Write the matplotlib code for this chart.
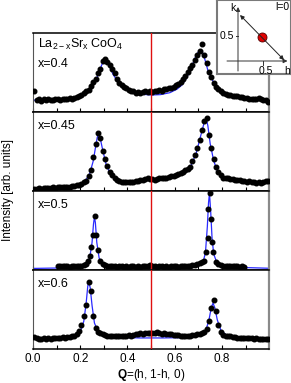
import matplotlib
matplotlib.use("Agg")
import matplotlib.pyplot as plt

plt.rcParams['font.family'] = ['Liberation Sans', 'DejaVu Sans']
plt.rcParams['mathtext.fontset'] = 'custom'
plt.rcParams['mathtext.rm'] = 'Liberation Sans'
plt.rcParams['mathtext.bf'] = 'Liberation Sans:bold'

# scan positions (h) shared by x=0.4, 0.45, 0.6
h_scan = [0.005, 0.015, 0.025, 0.035, 0.045, 0.055, 0.065, 0.075, 0.085, 0.095,
          0.105, 0.115, 0.125, 0.135, 0.145, 0.155, 0.165, 0.175, 0.185, 0.195,
          0.205, 0.215, 0.225, 0.235, 0.245, 0.255, 0.265, 0.275, 0.285, 0.295,
          0.305, 0.315, 0.325, 0.335, 0.345, 0.355, 0.365, 0.375, 0.385, 0.395,
          0.405, 0.415, 0.425, 0.435, 0.445, 0.455, 0.465, 0.475, 0.485, 0.495,
          0.505, 0.515, 0.525, 0.535, 0.545, 0.555, 0.565, 0.575, 0.585, 0.595,
          0.605, 0.615, 0.625, 0.635, 0.645, 0.655, 0.665, 0.675, 0.685, 0.695,
          0.705, 0.715, 0.725, 0.735, 0.745, 0.755, 0.765, 0.775, 0.785, 0.795,
          0.805, 0.815, 0.825, 0.835, 0.845, 0.855, 0.865, 0.875, 0.885, 0.895,
          0.905, 0.915, 0.925, 0.935, 0.945, 0.955, 0.965, 0.975, 0.985, 0.995]

int_x04 = [0.26, 0.15, 0.16, 0.145, 0.16, 0.15, 0.165, 0.155, 0.15, 0.16,
           0.165, 0.155, 0.16, 0.17, 0.165, 0.175, 0.17, 0.18, 0.19, 0.2,
           0.22, 0.24, 0.26, 0.28, 0.33, 0.38, 0.42, 0.49, 0.55, 0.64,
           0.67, 0.63, 0.6, 0.55, 0.49, 0.42, 0.37, 0.34, 0.32, 0.3,
           0.28, 0.27, 0.26, 0.245, 0.25, 0.245, 0.255, 0.26, 0.25, 0.26,
           0.255, 0.27, 0.265, 0.28, 0.27, 0.285, 0.29, 0.3, 0.31, 0.32,
           0.34, 0.35, 0.38, 0.42, 0.46, 0.51, 0.56, 0.6, 0.66, 0.72,
           0.77, 0.86, 0.72, 0.62, 0.51, 0.44, 0.37, 0.32, 0.29, 0.26,
           0.24, 0.23, 0.22, 0.215, 0.205, 0.2, 0.2, 0.195, 0.185, 0.18,
           0.175, 0.17, 0.165, 0.17, 0.16, 0.18, 0.165, 0.15, 0.155, 0.13]

int_x045 = [0.025, 0.03, 0.035, 0.03, 0.04, 0.035, 0.04, 0.04, 0.045, 0.04,
            0.045, 0.05, 0.045, 0.05, 0.055, 0.05, 0.06, 0.065, 0.075, 0.08,
            0.09, 0.11, 0.13, 0.19, 0.27, 0.43, 0.6, 0.73, 0.67, 0.51,
            0.4, 0.32, 0.24, 0.2, 0.16, 0.145, 0.13, 0.12, 0.12, 0.115,
            0.12, 0.115, 0.12, 0.125, 0.13, 0.135, 0.14, 0.15, 0.16, 0.155,
            0.15, 0.14, 0.155, 0.165, 0.16, 0.17, 0.165, 0.18, 0.185, 0.195,
            0.2, 0.21, 0.225, 0.24, 0.26, 0.28, 0.31, 0.38, 0.45, 0.55,
            0.64, 0.77, 0.88, 0.93, 0.71, 0.54, 0.4, 0.3, 0.24, 0.2,
            0.17, 0.165, 0.16, 0.155, 0.15, 0.145, 0.14, 0.135, 0.13, 0.125,
            0.12, 0.125, 0.115, 0.11, 0.105, 0.11, 0.105, 0.12, 0.125, 0.125]

int_x06 = [0.155, 0.14, 0.13, 0.13, 0.135, 0.13, 0.135, 0.13, 0.14, 0.135,
           0.14, 0.145, 0.15, 0.145, 0.155, 0.15, 0.16, 0.17, 0.185, 0.23,
           0.3, 0.42, 0.56, 0.85, 0.74, 0.42, 0.27, 0.22, 0.2, 0.185,
           0.175, 0.17, 0.165, 0.16, 0.165, 0.16, 0.165, 0.16, 0.17, 0.165,
           0.175, 0.17, 0.18, 0.185, 0.19, 0.2, 0.195, 0.2, 0.205, 0.2,
           0.205, 0.2, 0.21, 0.2, 0.195, 0.2, 0.19, 0.185, 0.19, 0.18,
           0.175, 0.18, 0.17, 0.165, 0.17, 0.165, 0.17, 0.175, 0.18, 0.185,
           0.19, 0.2, 0.21, 0.25, 0.36, 0.52, 0.62, 0.48, 0.31, 0.22,
           0.18, 0.17, 0.165, 0.16, 0.155, 0.15, 0.145, 0.14, 0.145, 0.14,
           0.135, 0.14, 0.135, 0.13, 0.135, 0.13, 0.125, 0.13, 0.125, 0.13]

# x=0.5 scan (shorter range, finer steps on the peaks)
h_x05 = [0.105, 0.115, 0.125, 0.135, 0.145, 0.155, 0.165, 0.175, 0.185, 0.195,
         0.205, 0.215, 0.225, 0.233, 0.240, 0.247, 0.254, 0.261, 0.268, 0.274,
         0.285, 0.295, 0.305, 0.315, 0.325, 0.335, 0.345, 0.355, 0.365, 0.375,
         0.385, 0.395, 0.405, 0.415, 0.425, 0.435, 0.445, 0.455, 0.465, 0.475,
         0.485, 0.495, 0.505, 0.515, 0.525, 0.535, 0.545, 0.555, 0.565, 0.575,
         0.585, 0.595, 0.605, 0.615, 0.625, 0.635, 0.645, 0.655, 0.665, 0.675,
         0.685, 0.695, 0.705, 0.715, 0.725, 0.732, 0.739, 0.742, 0.748, 0.753,
         0.757, 0.763, 0.774, 0.785, 0.795, 0.805, 0.815, 0.825, 0.835, 0.845,
         0.855, 0.865, 0.875, 0.885, 0.895]
int_x05 = [0.05, 0.045, 0.05, 0.045, 0.05, 0.04, 0.045, 0.05, 0.045, 0.05,
           0.055, 0.065, 0.08, 0.11, 0.18, 0.29, 0.44, 0.68, 0.44, 0.25,
           0.12, 0.08, 0.065, 0.055, 0.05, 0.045, 0.05, 0.04, 0.045, 0.045,
           0.04, 0.045, 0.04, 0.05, 0.045, 0.04, 0.045, 0.04, 0.05, 0.045,
           0.05, 0.06, 0.055, 0.045, 0.04, 0.045, 0.05, 0.04, 0.045, 0.04,
           0.045, 0.05, 0.045, 0.04, 0.045, 0.05, 0.045, 0.05, 0.055, 0.06,
           0.065, 0.075, 0.085, 0.1, 0.12, 0.23, 0.4, 0.77, 0.97, 0.65,
           0.36, 0.23, 0.1, 0.075, 0.06, 0.055, 0.05, 0.045, 0.05, 0.045,
           0.055, 0.05, 0.04, 0.045, 0.04]

# fitted curves
fit_h_x04 = [0.0, 0.1, 0.15, 0.2, 0.22, 0.24, 0.26, 0.28, 0.29, 0.3, 0.305, 0.31,
             0.32, 0.33, 0.34, 0.36, 0.38, 0.4, 0.43, 0.46, 0.5, 0.54, 0.58, 0.61,
             0.63, 0.65, 0.67, 0.69, 0.7, 0.71, 0.72, 0.73, 0.74, 0.76, 0.78, 0.8,
             0.83, 0.87, 0.92, 1.0]
fit_x04 = [0.15, 0.155, 0.165, 0.2, 0.23, 0.28, 0.37, 0.5, 0.59, 0.65, 0.66, 0.655,
           0.61, 0.54, 0.47, 0.38, 0.32, 0.28, 0.245, 0.225, 0.215, 0.22, 0.245, 0.29,
           0.34, 0.43, 0.56, 0.71, 0.76, 0.78, 0.74, 0.64, 0.53, 0.4, 0.31, 0.26,
           0.22, 0.19, 0.17, 0.145]

fit_h_x045 = [0.0, 0.1, 0.15, 0.19, 0.22, 0.24, 0.255, 0.265, 0.272, 0.278, 0.285,
              0.295, 0.31, 0.33, 0.35, 0.38, 0.42, 0.46, 0.5, 0.55, 0.6, 0.64, 0.67,
              0.69, 0.71, 0.725, 0.733, 0.74, 0.75, 0.765, 0.78, 0.8, 0.83, 0.87,
              0.92, 1.0]
fit_x045 = [0.03, 0.04, 0.05, 0.075, 0.12, 0.22, 0.38, 0.56, 0.68, 0.72, 0.66,
            0.52, 0.33, 0.2, 0.145, 0.12, 0.115, 0.125, 0.14, 0.16, 0.19, 0.24, 0.33,
            0.47, 0.7, 0.87, 0.91, 0.83, 0.6, 0.38, 0.26, 0.19, 0.155, 0.135,
            0.12, 0.105]

fit_h_x05 = [0.0, 0.1, 0.2, 0.225, 0.24, 0.25, 0.256, 0.26, 0.264, 0.27, 0.28, 0.3,
             0.33, 0.4, 0.6, 0.7, 0.72, 0.73, 0.738, 0.743, 0.747, 0.752, 0.758,
             0.765, 0.78, 0.8, 0.85, 1.0]
fit_x05 = [0.02, 0.025, 0.04, 0.07, 0.15, 0.35, 0.58, 0.67, 0.6, 0.35, 0.15, 0.07,
           0.045, 0.035, 0.035, 0.05, 0.1, 0.22, 0.55, 0.85, 0.97, 0.75, 0.4,
           0.2, 0.08, 0.05, 0.035, 0.022]

fit_h_x06 = [0.0, 0.1, 0.15, 0.18, 0.2, 0.215, 0.225, 0.232, 0.236, 0.242, 0.25,
             0.26, 0.275, 0.3, 0.35, 0.45, 0.55, 0.65, 0.7, 0.73, 0.745, 0.755,
             0.762, 0.77, 0.78, 0.795, 0.82, 0.87, 1.0]
fit_x06 = [0.13, 0.135, 0.145, 0.17, 0.22, 0.35, 0.58, 0.8, 0.84, 0.78, 0.55,
           0.33, 0.22, 0.17, 0.15, 0.14, 0.14, 0.145, 0.16, 0.22, 0.37, 0.53,
           0.58, 0.52, 0.37, 0.24, 0.17, 0.145, 0.13]

panels = [
    ('x=0.4', h_scan, int_x04, fit_h_x04, fit_x04),
    ('x=0.45', h_scan, int_x045, fit_h_x045, fit_x045),
    ('x=0.5', h_x05, int_x05, fit_h_x05, fit_x05),
    ('x=0.6', h_scan, int_x06, fit_h_x06, fit_x06),
]
label_y = [0.68, 0.9, 0.9, 0.9]

fig = plt.figure(figsize=(2.91, 3.83), dpi=100)
gs = fig.add_gridspec(4, 1, left=33/291, right=269/291, bottom=1-349/383,
                      top=1-33/383, hspace=0)

axes = []
for i, (lab, hx, iy, fh, fy) in enumerate(panels):
    ax = fig.add_subplot(gs[i])
    axes.append(ax)
    ax.plot(fh, fy, color='#2a2aff', lw=0.9, zorder=2)
    ax.plot(hx, iy, 'o', color='black', ms=3.3, mec='black', zorder=3)
    ax.axvline(0.5, color='#e01010', lw=1.0, zorder=4)
    ax.set_xlim(0, 0.999)
    ax.set_ylim(0, 1)
    ax.set_yticks([])
    ax.set_xticks([0.0, 0.2, 0.4, 0.6, 0.8])
    ax.set_xticks([0.1, 0.3, 0.5, 0.7, 0.9], minor=True)
    ax.tick_params(axis='x', which='both', direction='in', length=3, width=0.8,
                   labelsize=8.5, pad=3)
    ax.text(0.02, label_y[i], lab, transform=ax.transAxes, fontsize=9,
            va='top', ha='left')
    ax.spines['left'].set_color('#555555')
    ax.spines['right'].set_color('#8a8a8a')
    ax.spines['right'].set_linewidth(1.6)
    ax.spines['top'].set_linewidth(1.1)
    ax.spines['bottom'].set_linewidth(1.1)
    if i < 3:
        ax.tick_params(axis='x', labelbottom=False)

axes[0].text(0.02, 0.95, r'La$_{\mathregular{2-x}}$Sr$_{\mathregular{x}}$ CoO$_{\mathregular{4}}$',
             transform=axes[0].transAxes, fontsize=9, va='top', ha='left')
axes[3].set_xlabel(r'$\mathbf{Q}$=(h, 1-h, 0)', fontsize=8.5, labelpad=1)
fig.text(0.028, 1-190/383, 'Intensity [arb. units]', rotation=90,
         va='center', ha='center', fontsize=8.5)

# inset: scan direction in the (h, k) plane
axi = fig.add_axes([217/291, 1-74/383, 74/291, 74/383])
axi.set_xlim(-0.42, 1.06)
axi.set_ylim(-0.26, 1.22)
axi.set_xticks([])
axi.set_yticks([])
for s in axi.spines.values():
    s.set_color('#7a7a7a')
    s.set_linewidth(1.5)
axi.annotate('', xy=(0.99, 0.0), xytext=(-0.22, 0.0),
             arrowprops=dict(arrowstyle='-|>', color='#333333', lw=0.7,
                             mutation_scale=6, shrinkA=0, shrinkB=0))
axi.annotate('', xy=(0.0, 1.08), xytext=(0.0, -0.2),
             arrowprops=dict(arrowstyle='-|>', color='#333333', lw=0.7,
                             mutation_scale=6, shrinkA=0, shrinkB=0))
axi.annotate('', xy=(0.92, 0.02), xytext=(0.04, 0.92),
             arrowprops=dict(arrowstyle='<|-|>', color='#222222', lw=0.7,
                             mutation_scale=6, shrinkA=0, shrinkB=0))
axi.plot([0.48], [0.49], 'o', ms=6.5, color='#e00000', mec='#550000', mew=0.6)
axi.plot([-0.05, 0.0], [0.5, 0.5], color='#333333', lw=0.7)
axi.plot([0.5, 0.5], [0.0, -0.08], color='#333333', lw=0.7)
axi.text(-0.08, 0.5, '0.5', fontsize=7.5, ha='right', va='center')
axi.text(0.55, -0.1, '0.5', fontsize=7.5, ha='center', va='top')
axi.text(0.98, -0.1, 'h', fontsize=7.5, ha='center', va='top')
axi.text(-0.1, 1.06, 'k', fontsize=7.5, ha='center', va='center')
axi.text(1.02, 1.18, 'l=0', fontsize=7.5, ha='right', va='top')

fig.savefig('out.png', dpi=100)
